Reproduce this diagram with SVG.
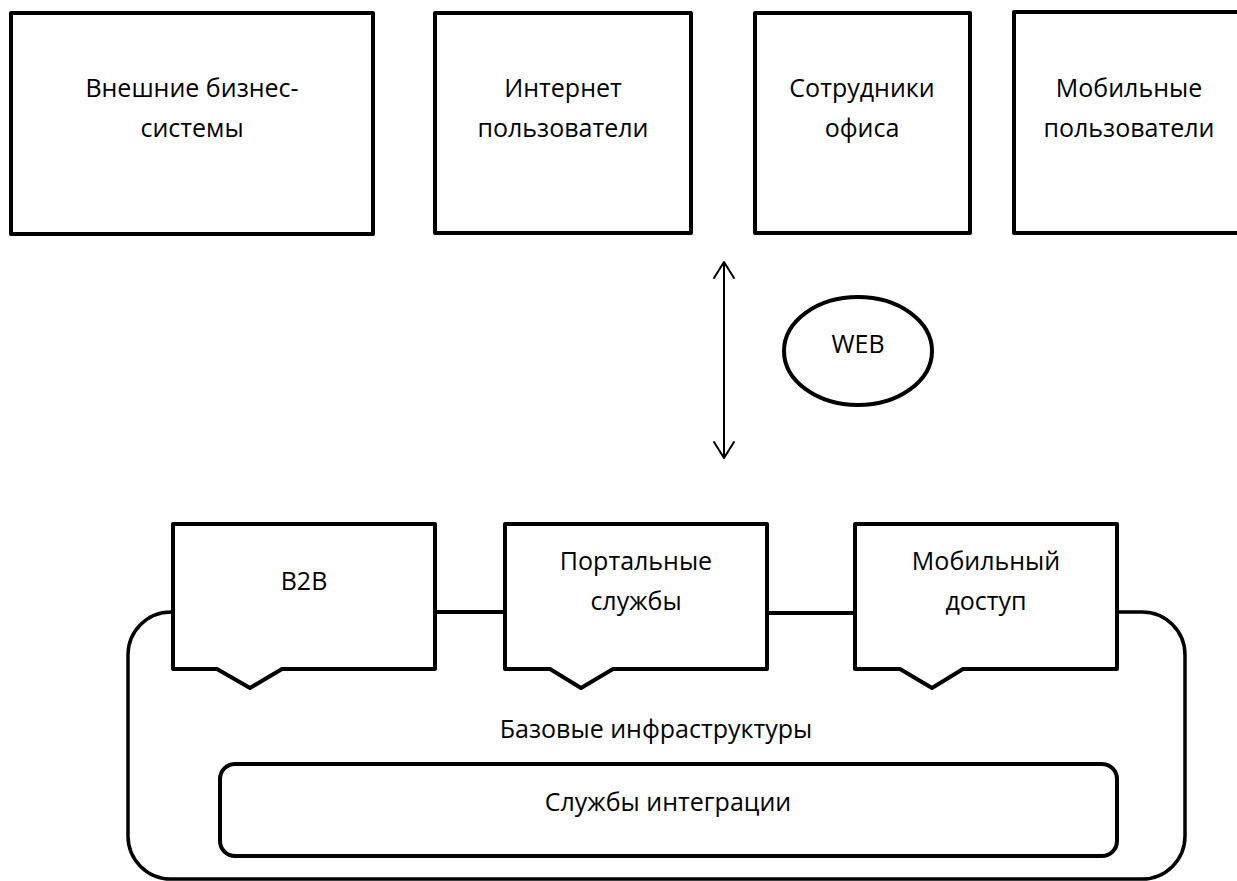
<svg xmlns="http://www.w3.org/2000/svg" width="1237" height="881" viewBox="0 0 1237 881">
  <style>
    .box { fill: #ffffff; stroke: #000000; stroke-width: 4; stroke-linejoin: round; }
    .outer { fill: none; stroke: #000000; stroke-width: 3.5; }
    .link { stroke: #000000; stroke-width: 4; fill: none; }
    .arrow { stroke: #000000; stroke-width: 2; fill: none; }
    .lbl { font-family: "Open Sans", "Liberation Sans", sans-serif; font-size: 25px; fill: #000000; text-anchor: middle; }
  </style>
  <defs>
    <marker id="open" markerUnits="userSpaceOnUse" markerWidth="24" markerHeight="24" viewBox="-18 -12 24 24" refX="0" refY="0" orient="auto-start-reverse" overflow="visible">
      <path d="M-16,-10 L0,0 L-16,10" fill="none" stroke="#000000" stroke-width="2" stroke-linecap="round" stroke-linejoin="round"/>
    </marker>
  </defs>
  <rect width="1237" height="881" fill="#ffffff"/>

  <g id="ext-business">
    <rect class="box" x="11" y="13" width="362" height="221"/>
    <text class="lbl" x="192" y="97">Внешние бизнес-</text>
    <text class="lbl" x="192" y="137">системы</text>
  </g>
  <g id="internet-users">
    <rect class="box" x="435" y="13" width="256" height="220"/>
    <text class="lbl" x="563" y="97">Интернет</text>
    <text class="lbl" x="563" y="137">пользователи</text>
  </g>
  <g id="office-staff">
    <rect class="box" x="755" y="13" width="215" height="220"/>
    <text class="lbl" x="862" y="97">Сотрудники</text>
    <text class="lbl" x="862" y="137">офиса</text>
  </g>
  <g id="mobile-users">
    <rect class="box" x="1014" y="12" width="240" height="221"/>
    <text class="lbl" x="1129" y="97">Мобильные</text>
    <text class="lbl" x="1129" y="137">пользователи</text>
  </g>

  <g id="web">
    <ellipse class="box" cx="858" cy="351" rx="74" ry="54"/>
    <text class="lbl" x="858" y="353">WEB</text>
  </g>

  <g id="base-infra">
    <path class="outer" d="M173,612 H171 A43,43 0 0 0 128,655 V836 A43,43 0 0 0 171,879 H1142 A43,43 0 0 0 1185,836 V655 A43,43 0 0 0 1142,612 H1117"/>
    <text class="lbl" x="656" y="738">Базовые инфраструктуры</text>
  </g>
  <g id="integration">
    <rect class="box" x="220" y="764" width="897" height="92" rx="15" ry="15"/>
    <text class="lbl" x="668" y="811">Службы интеграции</text>
  </g>

  <g id="connectors">
    <line class="arrow" x1="724" y1="262" x2="724" y2="458" marker-start="url(#open)" marker-end="url(#open)"/>
    <line class="link" x1="435" y1="612" x2="505" y2="612"/>
    <line class="link" x1="767" y1="613" x2="855" y2="613"/>
  </g>

  <g id="b2b">
    <path class="box" d="M173,524 H435 V669 H282 L250,688 L217,669 H173 Z"/>
    <text class="lbl" x="304" y="590">B2B</text>
  </g>
  <g id="portal">
    <path class="box" d="M505,524 H767 V669 H613 L581,688 L550,669 H505 Z"/>
    <text class="lbl" x="636" y="570">Портальные</text>
    <text class="lbl" x="636" y="610">службы</text>
  </g>
  <g id="mobile-access">
    <path class="box" d="M855,524 H1117 V669 H963 L932,688 L900,669 H855 Z"/>
    <text class="lbl" x="986" y="570">Мобильный</text>
    <text class="lbl" x="986" y="610">доступ</text>
  </g>
</svg>
